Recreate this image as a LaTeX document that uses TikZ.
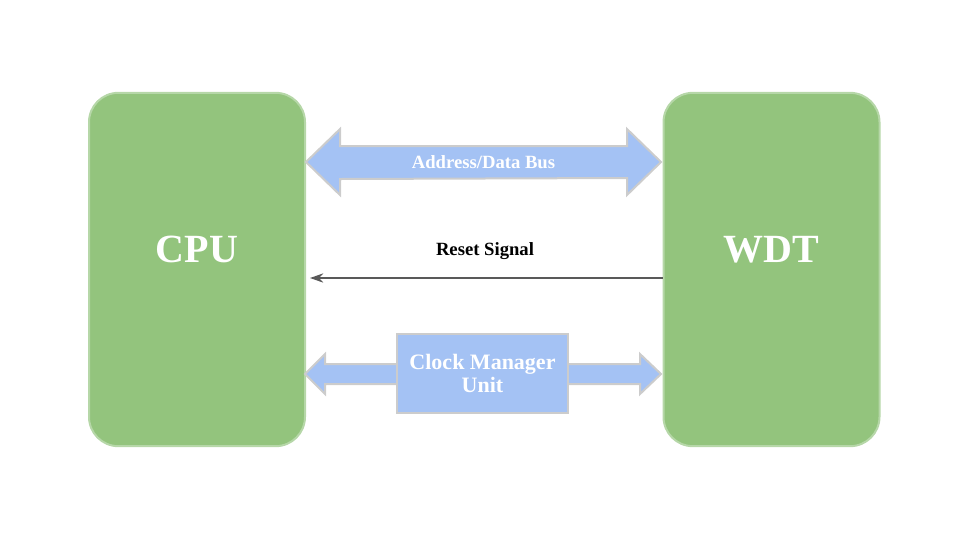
\documentclass[tikz,border=0pt]{standalone}
\usepackage{fontspec}
\setmainfont{Liberation Serif}
\usetikzlibrary{arrows.meta,calc}
\definecolor{boxgreen}{HTML}{93C47D}
\definecolor{boxedge}{HTML}{B6D7A8}
\definecolor{busblue}{HTML}{A4C2F4}
\definecolor{busedge}{HTML}{CCCCCC}
\definecolor{sigline}{HTML}{595959}
\tikzset{
  unitbox/.style={draw=boxedge, line width=1.5pt, fill=boxgreen, rounded corners=22pt,
    minimum width=162pt, minimum height=265pt},
  unitlabel/.style={text=white, font=\bfseries\fontsize{30}{34}\selectfont},
  busshape/.style={draw=busedge, line width=1.5pt, fill=busblue, line join=miter},
  buslabel/.style={text=white, font=\bfseries\fontsize{14}{16}\selectfont},
  siglabel/.style={text=black, font=\bfseries\fontsize{14}{16}\selectfont},
  sigarrow/.style={draw=sigline, line width=1.1pt, -{Stealth[length=10pt,width=7pt]}},
  cmubox/.style={draw=busedge, line width=1.5pt, fill=busblue, minimum width=128pt, minimum height=59pt,
    align=center, text=white, font=\bfseries\fontsize{16.5}{17.5}\selectfont}
}
\begin{document}
\begin{tikzpicture}[x=0.75pt,y=-0.75pt]
\useasboundingbox (0,0) rectangle (960,540);
\node[unitbox] (cpu) at (197,269.5) {};
\node[unitbox] (wdt) at (771.5,269.5) {};
\node[unitlabel] (cputxt) at ($(cpu.center)+(0,-20)$) {CPU};
\node[unitlabel] (wdttxt) at ($(wdt.center)+(0,-20)$) {WDT};
% Address/Data bus double arrow
\coordinate (busL) at (306,162);
\coordinate (busR) at (661,162);
\draw[busshape] (busL) -- ++(34,-33) -- ++(0,17) -- ($(busR)+(-34,-16)$) -- ++(0,-17) -- (busR)
  -- ++(-34,33) -- ++(0,-17) -- ($(busL)+(34,17)$) -- ++(0,16) -- cycle;
\node[buslabel] (buslbl) at (483.5,162) {Address/Data Bus};
% Reset signal
\coordinate (rstR) at (wdt.west |- 0,278);
\coordinate (rstL) at (310,278);
\draw[sigarrow] (rstR) -- (rstL);
\node[siglabel] (rstlbl) at (485,251) {Reset Signal};
% Clock manager unit
\coordinate (clkL) at (305,374);
\coordinate (clkR) at (661,374);
\draw[busshape] (clkL) -- ++(20,-20) -- ++(0,10) -- (400,364) -- (400,384) -- ($(clkL)+(20,10)$) -- ++(0,10) -- cycle;
\draw[busshape] (clkR) -- ++(-21,-20) -- ++(0,10) -- (565,364) -- (565,384) -- ($(clkR)+(-21,10)$) -- ++(0,10) -- cycle;
\node[cmubox] (cmu) at (482.5,373.5) {Clock Manager\\Unit};
\end{tikzpicture}
\end{document}
